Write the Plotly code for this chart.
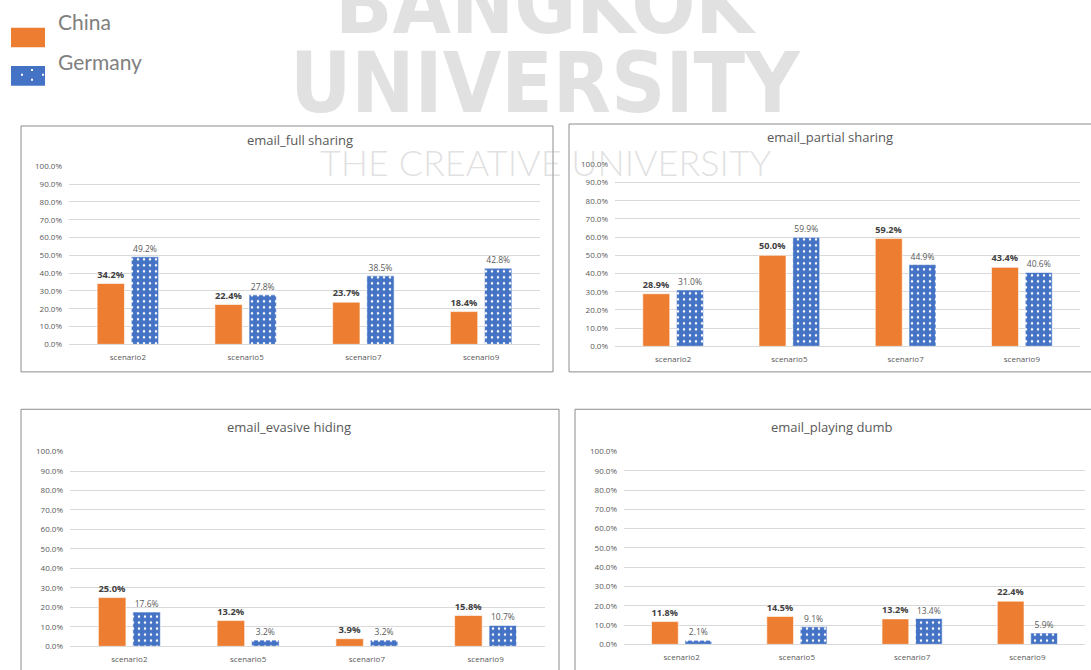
import plotly.graph_objects as go

# Scenario categories shared by every panel
scenarios = ["scenario2", "scenario5", "scenario7", "scenario9"]

# Panel titles
titles = ["email_full sharing", "email_partial sharing",
          "email_evasive hiding", "email_playing dumb"]

# Percentages per panel (China / Germany)
full_china = [34.2, 22.4, 23.7, 18.4]
full_germany = [49.2, 27.8, 38.5, 42.8]
partial_china = [28.9, 50.0, 59.2, 43.4]
partial_germany = [31.0, 59.9, 44.9, 40.6]
evasive_china = [25.0, 13.2, 3.9, 15.8]
evasive_germany = [17.6, 3.2, 3.2, 10.7]
dumb_china = [11.8, 14.5, 13.2, 22.4]
dumb_germany = [2.1, 9.1, 13.4, 5.9]

y_ticks = [0, 10, 20, 30, 40, 50, 60, 70, 80, 90, 100]

W, H = 1091, 670
ORANGE = "#ED7D31"
BLUE = "#4472C4"
GRID = "#d9d9d9"
TXT = "#595959"
FONT = "Open Sans"


def px(x):
    return x / W


def py(y):
    return 1 - y / H


# plot areas (pixel boxes: left, right, top, bottom) and frames
panels = [
    dict(area=(69, 540, 163, 344), frame=(21, 553, 122, 372), title=(300, 136),
         china=full_china, germany=full_germany),
    dict(area=(615, 1080, 161, 346), frame=(569, 1100, 120, 372), title=(830, 133),
         china=partial_china, germany=partial_germany),
    dict(area=(70, 545, 453, 651), frame=(21, 559, 410, 680), title=(289, 428),
         china=evasive_china, germany=evasive_germany),
    dict(area=(624, 1085, 453, 649), frame=(575, 1100, 410, 680), title=(831, 428),
         china=dumb_china, germany=dumb_germany),
]

fig = go.Figure()
shapes = []
annotations = []
layout_axes = {}

for i, p in enumerate(panels):
    n = "" if i == 0 else str(i + 1)
    xa, ya = "x" + n, "y" + n
    l, r, t, b = p["area"]
    fig.add_trace(go.Bar(
        x=scenarios, y=p["china"], name="China", xaxis=xa, yaxis=ya,
        marker=dict(color=ORANGE, line=dict(color="white", width=0.6)),
        texttemplate="%{y:.1f}%", textposition="outside", cliponaxis=False,
        textfont=dict(family=FONT, size=9.5, color="#404040", weight="bold"),
        showlegend=False,
    ))
    fig.add_trace(go.Bar(
        x=scenarios, y=p["germany"], name="Germany", xaxis=xa, yaxis=ya,
        marker=dict(color=BLUE, line=dict(color="white", width=0.6),
                    pattern=dict(shape=".", fgcolor="white", bgcolor=BLUE,
                                 size=6, solidity=0.14, fillmode="replace")),
        texttemplate="%{y:.1f}%", textposition="outside", cliponaxis=False,
        textfont=dict(family=FONT, size=8.5, color=TXT),
        showlegend=False,
    ))
    layout_axes["xaxis" + n] = dict(
        domain=[px(l), px(r)], anchor=ya, showgrid=False, showline=False,
        zeroline=False, ticks="", ticklabelstandoff=7,
        tickfont=dict(family=FONT, size=8, color=TXT), fixedrange=True,
    )
    layout_axes["yaxis" + n] = dict(
        domain=[py(b), py(t)], anchor=xa, range=[0, 100],
        tickvals=y_ticks, ticktext=[f"{v:.1f}%" for v in y_ticks],
        showgrid=True, gridcolor=GRID, gridwidth=1, zeroline=True,
        zerolinecolor=GRID, zerolinewidth=1, showline=False, ticks="",
        ticklabelstandoff=6, tickfont=dict(family=FONT, size=8, color=TXT),
        fixedrange=True,
    )
    fl, fr, ft, fb = p["frame"]
    shapes.append(dict(type="rect", xref="paper", yref="paper",
                       x0=px(fl), x1=px(fr), y0=py(fb), y1=py(ft),
                       line=dict(color="#8c8c8c", width=1), layer="below"))
    tx, ty = p["title"]
    annotations.append(dict(text=titles[i], xref="paper", yref="paper",
                            x=px(tx), y=py(ty), showarrow=False,
                            xanchor="center", yanchor="middle",
                            font=dict(family=FONT, size=13, color=TXT)))

# Legend swatches
shapes.append(dict(type="rect", xref="paper", yref="paper",
                   x0=px(11), x1=px(45), y0=py(42), y1=py(22),
                   fillcolor=ORANGE, line=dict(width=0)))
shapes.append(dict(type="rect", xref="paper", yref="paper",
                   x0=px(11), x1=px(45), y0=py(81), y1=py(61),
                   fillcolor=BLUE, line=dict(width=0)))
for dx, dy in [(22, 70), (32, 65), (32, 75), (43, 70)]:
    shapes.append(dict(type="rect", xref="paper", yref="paper",
                       x0=px(dx - 1), x1=px(dx + 1), y0=py(dy + 1), y1=py(dy - 1),
                       fillcolor="white", line=dict(width=0)))
for label, yy in [("China", 16), ("Germany", 56)]:
    annotations.append(dict(text=label, xref="paper", yref="paper",
                            x=px(56), y=py(yy), showarrow=False,
                            xanchor="left", yanchor="middle",
                            font=dict(family="Lato", size=21, color="#808080")))

# Watermark
WM = "rgba(175,175,175,0.38)"
annotations.append(dict(text="BANGKOK", xref="paper", yref="paper",
                        x=px(545), y=py(-2), showarrow=False,
                        xanchor="center", yanchor="middle",
                        font=dict(family="DejaVu Sans Condensed", size=84,
                                  color=WM, weight="bold")))
annotations.append(dict(text="UNIVERSITY", xref="paper", yref="paper",
                        x=px(545), y=py(78), showarrow=False,
                        xanchor="center", yanchor="middle",
                        font=dict(family="DejaVu Sans Condensed", size=84,
                                  color=WM, weight="bold")))
annotations.append(dict(text="THE CREATIVE UNIVERSITY", xref="paper", yref="paper",
                        x=px(546), y=py(159), showarrow=False,
                        xanchor="center", yanchor="middle",
                        font=dict(family="Lato", size=36, color=WM, weight=300)))

fig.update_layout(
    width=W, height=H, margin=dict(l=0, r=0, t=0, b=0),
    paper_bgcolor="white", plot_bgcolor="white",
    barmode="group", bargap=0.42, bargroupgap=0.2,
    shapes=shapes, annotations=annotations, showlegend=False,
    **layout_axes,
)

fig.write_html("out.html")
